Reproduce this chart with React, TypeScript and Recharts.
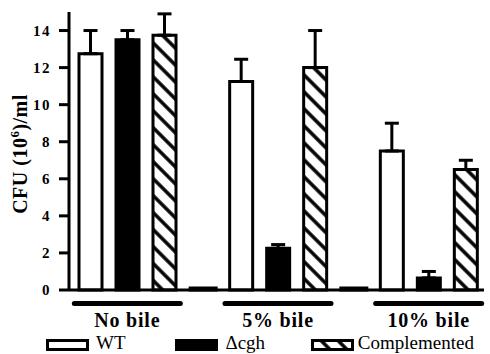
import React from 'react';
import { BarChart, Bar, XAxis, YAxis, ErrorBar, Legend, Label } from 'recharts';

const groups = ['No bile', '5% bile', '10% bile'];
const wtValues = [12.75, 11.25, 7.5];
const wtErrors = [1.25, 1.2, 1.5];
const cghValues = [13.5, 2.25, 0.65];
const cghErrors = [0.5, 0.2, 0.35];
const compValues = [13.75, 12.0, 6.5];
const compErrors = [1.15, 2.0, 0.5];
const yTicks = [0, 2, 4, 6, 8, 10, 12, 14];
const seriesNames = ['WT', '\u0394cgh', 'Complemented'];

const data = groups.map((g, i) => ({
  group: g,
  wt: wtValues[i],
  wtErr: [0, wtErrors[i]],
  cgh: cghValues[i],
  cghErr: [0, cghErrors[i]],
  comp: compValues[i],
  compErr: [0, compErrors[i]],
}));

const FONT = 'Liberation Serif, DejaVu Serif, serif';

const GroupTick = (props: any) => {
  const { x, y, payload, index } = props;
  const half = payload && typeof payload.offset === 'number' && payload.offset > 0 ? payload.offset : 75;
  return (
    <g>
      <line x1={x - 53} x2={x + 53} y1={y + 13.5} y2={y + 13.5} stroke="#000" strokeWidth={5} strokeLinecap="round" />
      <text x={x} y={y + 37} textAnchor="middle" style={{ fontFamily: FONT, fontWeight: 'bold', fontSize: 20, letterSpacing: 0.8 }} fill="#000">
        {payload.value}
      </text>
      {index < groups.length - 1 && (
        <rect x={x + half - 14} y={y - 3.5} width={29} height={5} fill="#000" />
      )}
    </g>
  );
};

const YTick = (props: any) => {
  const { x, y, payload } = props;
  return (
    <text x={x} y={y} dy={5} textAnchor="end" style={{ fontFamily: FONT, fontWeight: 'bold', fontSize: 15, letterSpacing: 1.5 }} fill="#000">
      {payload.value}
    </text>
  );
};

const YTitle = (props: any) => {
  const vb = props.viewBox || { x: 0, y: 12, width: 69, height: 278 };
  const cx = vb.x + 27;
  const cy = vb.y + vb.height / 2 + 3;
  return (
    <text
      transform={`translate(${cx}, ${cy}) rotate(-90)`}
      textAnchor="middle"
      style={{ fontFamily: FONT, fontWeight: 'bold', fontSize: 20, letterSpacing: 0.5 }}
      fill="#000"
    >
      <tspan>CFU (10</tspan>
      <tspan dy={-8} style={{ fontSize: 13 }}>6</tspan>
      <tspan dy={8}>)/ml</tspan>
    </text>
  );
};

const legendWidths = [130, 136, 180];
const legendFills = ['#fff', '#000', 'url(#hatch)'];

const LegendContent = (props: any) => {
  const payload = props.payload || [];
  const items = seriesNames.map((n) => payload.find((p: any) => p.value === n) || { value: n });
  return (
    <div style={{ display: 'flex', fontFamily: FONT, fontSize: 19, color: '#000' }}>
      {items.map((p: any, i: number) => (
        <div key={i} style={{ width: legendWidths[i], display: 'flex', alignItems: 'flex-start' }}>
          <svg width={44} height={14} style={{ marginTop: 6 }}>
            <rect x={1.5} y={1.5} width={40} height={9} fill={legendFills[i]} stroke="#000" strokeWidth={3} />
          </svg>
          <span style={{ marginLeft: i === 2 ? 3 : 6, lineHeight: '20px', whiteSpace: 'nowrap' }}>{p.value}</span>
        </div>
      ))}
    </div>
  );
};

export default function App() {
  return (
    <div style={{ position: 'absolute', left: 0, top: 0, width: 490, height: 354, background: '#fff' }}>
      <BarChart
        width={490}
        height={354}
        data={data}
        margin={{ top: 12, right: 6, bottom: 0, left: 0 }}
        barGap={14}
        barSize={23}
      >
        <defs>
          <pattern id="hatch" patternUnits="userSpaceOnUse" width={12} height={12} patternTransform="rotate(45)">
            <rect width={12} height={12} fill="#fff" />
            <line x1={0} y1={6} x2={12} y2={6} stroke="#000" strokeWidth={3.5} />
          </pattern>
        </defs>
        <XAxis
          dataKey="group"
          height={64}
          padding={{ left: -17, right: -20 }}
          axisLine={{ stroke: '#000', strokeWidth: 3 }}
          tickLine={false}
          tickSize={0}
          tickMargin={0}
          interval={0}
          tick={<GroupTick />}
        />
        <YAxis
          width={69}
          domain={[0, 15]}
          ticks={yTicks}
          interval={0}
          axisLine={{ stroke: '#000', strokeWidth: 3 }}
          tickLine={{ stroke: '#000', strokeWidth: 3 }}
          tickSize={10}
          tickMargin={8}
          tick={<YTick />}
        >
          <Label content={<YTitle />} />
        </YAxis>
        <Legend
          content={<LegendContent />}
          layout="horizontal"
          verticalAlign="middle"
          align="center"
          wrapperStyle={{ left: 46, top: 333, width: 444, height: 20 }}
        />
        <Bar dataKey="wt" name={seriesNames[0]} fill="#fff" stroke="#000" strokeWidth={3} isAnimationActive={false}>
          <ErrorBar dataKey="wtErr" width={7} stroke="#000" strokeWidth={3} direction="y" />
        </Bar>
        <Bar dataKey="cgh" name={seriesNames[1]} fill="#000" stroke="#000" strokeWidth={3} isAnimationActive={false}>
          <ErrorBar dataKey="cghErr" width={7} stroke="#000" strokeWidth={3} direction="y" />
        </Bar>
        <Bar dataKey="comp" name={seriesNames[2]} fill="url(#hatch)" stroke="#000" strokeWidth={3} isAnimationActive={false}>
          <ErrorBar dataKey="compErr" width={7} stroke="#000" strokeWidth={3} direction="y" />
        </Bar>
      </BarChart>
    </div>
  );
}
